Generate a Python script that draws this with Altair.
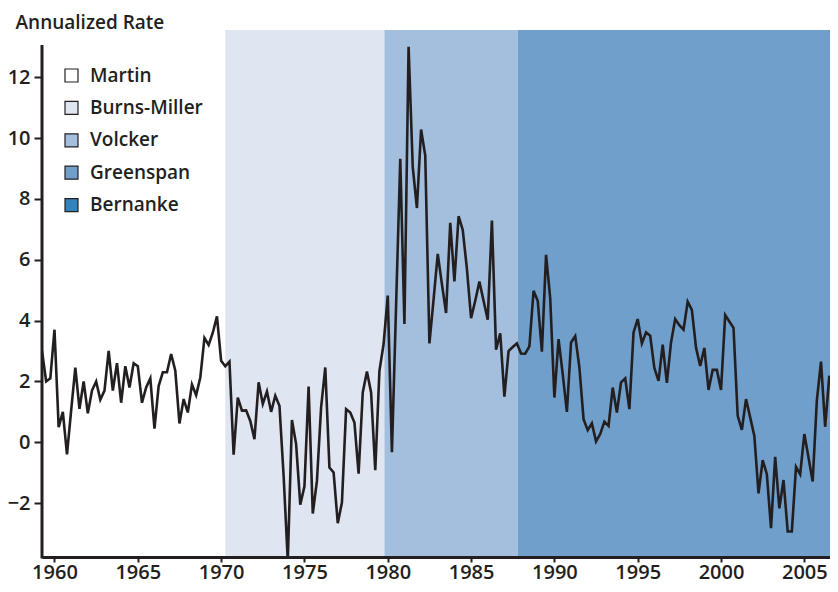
import altair as alt
import pandas as pd

# ---- data (quarterly, first point = 1959 Q2) ----
FIRST_QUARTER = 1959.25
rate_1959_1969 = [3.0, 2.0, 2.1, 3.7, 0.5, 1.0, -0.4, 1.05, 2.45, 1.1, 2.0, 0.95, 1.7, 2.0,
                  1.4, 1.7, 3.0, 1.7, 2.6, 1.3, 2.5, 1.8, 2.6, 2.5, 1.3, 1.8, 2.1, 0.45,
                  1.85, 2.3, 2.3, 2.9, 2.35, 0.62, 1.42, 0.98, 1.9, 1.55, 2.13, 3.43, 3.2,
                  3.6, 4.14]
rate_1970s = [2.68, 2.5, 2.65, -0.41, 1.47, 1.04, 1.05, 0.7, 0.1, 1.97, 1.26, 1.67, 1.0,
              1.53, 1.2, -1.1, -3.9, 0.73, -0.06, -2.05, -1.45, 1.83, -2.34, -1.27, 1.15,
              2.46, -0.83, -0.99, -2.66, -1.98, 1.09, 0.98, 0.65, -1.03, 1.64, 2.33, 1.64,
              -0.92, 2.35, 3.23]
rate_1980s = [4.82, -0.33, 4.5, 9.32, 3.89, 13.0, 9.04, 7.7, 10.28, 9.42, 3.25, 4.7, 6.19,
              5.2, 4.25, 7.21, 5.29, 7.43, 6.98, 5.7, 4.08, 4.65, 5.28, 4.65, 4.03, 7.29,
              3.04, 3.58, 1.5, 3.0, 3.13, 3.25, 2.92, 2.91, 3.15, 4.98, 4.65, 2.98, 6.16,
              4.73]
rate_1990s = [1.47, 3.39, 2.24, 1.0, 3.28, 3.49, 2.46, 0.76, 0.4, 0.62, 0.03, 0.27, 0.68,
              0.54, 1.8, 0.98, 1.97, 2.1, 1.09, 3.61, 4.05, 3.25, 3.61, 3.5, 2.44, 2.02,
              3.21, 1.95, 3.28, 4.05, 3.85, 3.7, 4.62, 4.35, 3.11, 2.51, 3.1, 1.72, 2.38,
              2.38]
rate_2000s = [1.72, 4.18, 3.97, 3.76, 0.87, 0.41, 1.42, 0.82, 0.21, -1.68, -0.59, -1.05,
              -2.82, -0.48, -2.17, -1.24, -2.93, -2.93, -0.81, -1.05, 0.27, -0.5, -1.29,
              1.37, 2.65, 0.51, 2.19]

chairs = ["Martin", "Burns-Miller", "Volcker", "Greenspan", "Bernanke"]
chair_start = [1959.25, 1970.25, 1979.8, 1987.8, 2006.6]
chair_end = [1970.25, 1979.8, 1987.8, 2006.6, 2007.0]
chair_colors = ["#ffffff", "#dfe6f2", "#a4bfde", "#719fcb", "#3383bd"]

x_ticks = [1960, 1965, 1970, 1975, 1980, 1985, 1990, 1995, 2000, 2005]
y_ticks = [-2, 0, 2, 4, 6, 8, 10, 12]

# ---- tables ----
rates = rate_1959_1969 + rate_1970s + rate_1980s + rate_1990s + rate_2000s
df = pd.DataFrame({"t": [FIRST_QUARTER + 0.25 * i for i in range(len(rates))], "rate": rates})
bands_df = pd.DataFrame({"chair": chairs, "start": chair_start, "end": chair_end})

W, H = 788, 527
INK = "#231f20"
FONT = "Open Sans"
WEIGHT = 600

x_scale = alt.Scale(domain=[1959.25, 2006.54], nice=False, zero=False)
y_scale = alt.Scale(domain=[-3.77, 13.55], nice=False, zero=False)

x_axis = alt.Axis(values=x_ticks, format="d", title=None, grid=False,
                  domainColor=INK, domainWidth=3, tickColor=INK, tickWidth=2, tickSize=5,
                  labelFont=FONT, labelFontSize=20, labelFontWeight=WEIGHT, labelColor=INK,
                  labelPadding=0, zindex=1)
y_axis = alt.Axis(values=y_ticks, format="d", grid=False, domain=False,
                  tickColor=INK, tickWidth=2, tickSize=8,
                  labelFont=FONT, labelFontSize=20, labelFontWeight=WEIGHT, labelColor=INK,
                  labelPadding=4, title="Annualized Rate", titleAngle=0, titleAlign="left",
                  titleBaseline="alphabetic", titleX=-27, titleY=-2, titleFont=FONT,
                  titleFontSize=19, titleFontWeight=WEIGHT, titleColor=INK, zindex=1)

bands = alt.Chart(bands_df).mark_rect(clip=True).encode(
    x=alt.X("start:Q", scale=x_scale, axis=x_axis),
    x2="end:Q",
    y=alt.value(0),
    y2=alt.value(H),
    color=alt.Color("chair:N",
                    scale=alt.Scale(domain=chairs, range=chair_colors),
                    legend=alt.Legend(title=None, orient="none", legendX=20, legendY=36,
                                      symbolType="square", symbolSize=169,
                                      symbolStrokeColor=INK, symbolStrokeWidth=1.2,
                                      labelFont=FONT, labelFontSize=19,
                                      labelFontWeight=WEIGHT, labelColor=INK,
                                      labelOffset=9, rowPadding=12.4, padding=0)),
)

line = alt.Chart(df).mark_line(color=INK, strokeWidth=2.6, clip=True).encode(
    x=alt.X("t:Q", scale=x_scale, axis=x_axis),
    y=alt.Y("rate:Q", scale=y_scale, axis=y_axis),
)

y_line = alt.Chart(pd.DataFrame({"k": [0]})).mark_rule(color=INK, strokeWidth=3).encode(
    x=alt.value(0), y=alt.value(15), y2=alt.value(H + 1.5)
)

chart = alt.layer(bands, line, y_line).properties(
    width=W, height=H, autosize="none",
    padding={"left": 34, "top": 22, "right": 0, "bottom": 27},
).configure_view(stroke=None).configure(background="white")

chart.save("out.html", embed_options={"renderer": "svg", "actions": False})
